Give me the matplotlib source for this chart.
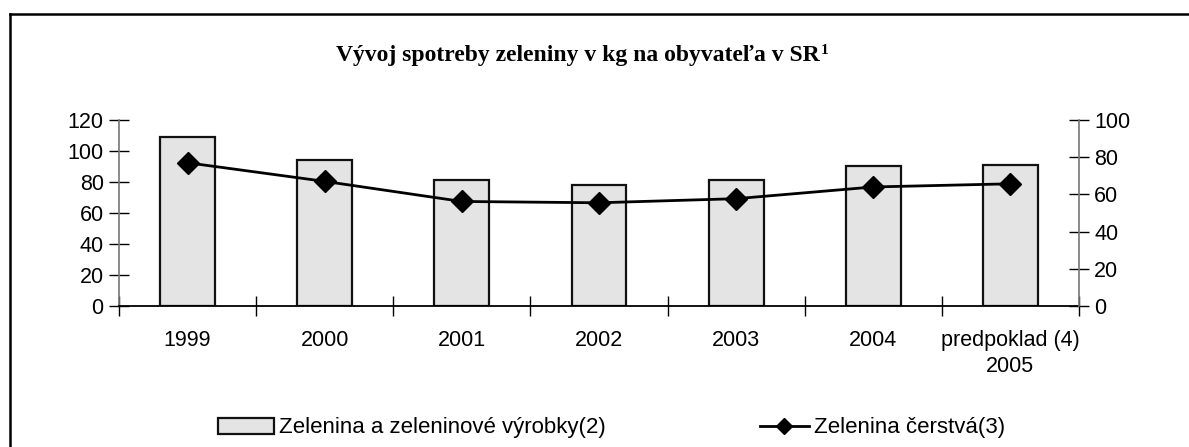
import matplotlib
matplotlib.use("Agg")
import matplotlib.pyplot as plt
from matplotlib.lines import Line2D
from matplotlib.patches import Patch

categories = ["1999", "2000", "2001", "2002", "2003", "2004", "predpoklad (4)\n2005"]
vyrobky = [109, 94, 81, 78, 81, 90.5, 91]
cerstva = [77, 67, 56.2, 55.5, 57.7, 64, 65.7]
title = "Vývoj spotreby zeleniny v kg na obyvateľa v SR"
label_bars = "Zelenina a zeleninové výrobky(2)"
label_line = "Zelenina čerstvá(3)"

W, H = 1189, 447
fig = plt.figure(figsize=(W / 100, H / 100), dpi=100)
plt.rcParams['font.family'] = ['Liberation Sans', 'DejaVu Sans']

# outer frame
fig.add_artist(Line2D([10 / W, 1.0], [1 - 14 / H, 1 - 14 / H], color='black', lw=1.8))
fig.add_artist(Line2D([10 / W, 10 / W], [0, 1 - 14 / H], color='black', lw=1.8))

ax = fig.add_axes([119 / W, 1 - 306 / H, (1079 - 119) / W, (306 - 120) / H])
x = list(range(len(categories)))
ax.bar(x, vyrobky, width=0.4, color='#e4e4e4', edgecolor='#111111', linewidth=1.6, zorder=2)
ax.set_xlim(-0.5, len(categories) - 0.5)
ax.set_ylim(0, 120)
ax.set_yticks(range(0, 121, 20))
ax.set_xticks(x)
ax.set_xticklabels(categories, fontsize=15.5, linespacing=1.35)
ax.set_xticks([i - 0.5 for i in range(len(categories) + 1)], minor=True)
ax.tick_params(axis='x', which='major', length=0, pad=17)
ax.tick_params(axis='x', which='minor', direction='inout', length=14, width=1)
ax.tick_params(axis='y', direction='inout', length=14, width=1, labelsize=15.5, pad=4)
for s in ['top', 'right']:
    ax.spines[s].set_visible(False)
ax.spines['left'].set_color('#777777')
ax.spines['left'].set_linewidth(1.2)
ax.spines['bottom'].set_linewidth(1.3)

ax2 = ax.twinx()
ax2.plot(x, cerstva, color='black', lw=2.0, marker='D', markersize=11, zorder=3)
ax2.set_ylim(0, 100)
ax2.set_yticks(range(0, 101, 20))
ax2.tick_params(axis='y', direction='inout', length=14, width=1, labelsize=15.5, pad=4)
for s in ['top', 'left', 'bottom']:
    ax2.spines[s].set_visible(False)
ax2.spines['right'].set_color('#777777')
ax2.spines['right'].set_linewidth(1.2)

# title with superscript
t = fig.text(578 / W, 1 - 56 / H, title, ha='center', va='center',
             fontsize=17, fontweight='bold', family=['Liberation Serif', 'DejaVu Serif'])
fig.canvas.draw()
bb = t.get_window_extent()
fig.text((bb.x1 + 1) / W, (bb.y1 - 5) / H, "1", ha='left', va='center',
         fontsize=11, fontweight='bold', family=['Liberation Serif', 'DejaVu Serif'])

# legends
h1 = Patch(facecolor='#e4e4e4', edgecolor='#111111', linewidth=1.6)
l1 = fig.legend([h1], [label_bars], loc='center left', bbox_to_anchor=(218 / W, 1 - 428 / H),
                frameon=False, fontsize=16, handlelength=2.5, handleheight=0.75,
                handletextpad=0.25, borderaxespad=0, borderpad=0)
h2 = Line2D([], [], color='black', lw=2.0, marker='D', markersize=8)
l2 = fig.legend([h2], [label_line], loc='center left', bbox_to_anchor=(760 / W, 1 - 428 / H),
                frameon=False, fontsize=16, handlelength=2.2, handletextpad=0.25,
                borderaxespad=0, borderpad=0)

fig.savefig("out.png", dpi=100)
